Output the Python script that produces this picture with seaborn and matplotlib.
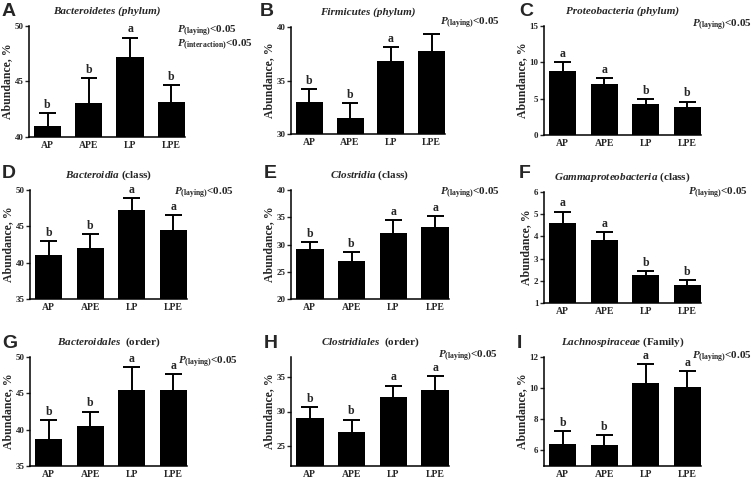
import numpy as np
import pandas as pd
import matplotlib
matplotlib.use("Agg")
import matplotlib.pyplot as plt
import seaborn as sns

sns.set_style("ticks")
plt.rcParams['font.family'] = ['Liberation Serif', 'DejaVu Serif']
plt.rcParams['font.weight'] = 'bold'
plt.rcParams['mathtext.fontset'] = 'custom'
plt.rcParams['mathtext.rm'] = 'Liberation Serif:bold'
plt.rcParams['mathtext.bf'] = 'Liberation Serif:bold'
plt.rcParams['mathtext.it'] = 'Liberation Serif:italic:bold'

groups = ["AP", "APE", "LP", "LPE"]

panel_ids = ["A", "B", "C", "D", "E", "F", "G", "H", "I"]
titles = [
    "Bacteroidetes (phylum)",
    "Firmicutes (phylum)",
    "Proteobacteria (phylum)",
    r"$\mathit{Bacteroidia}$ (class)",
    r"$\mathit{Clostridia}$ (class)",
    r"$\mathit{Gammaproteobacteria}$ (class)",
    r"$\mathit{Bacteroidales}$  (order)",
    r"$\mathit{Clostridiales}$  (order)",
    r"$\mathit{Lachnospiraceae}$ (Family)",
]
italic_title = [True, True, True, False, False, False, False, False, False]

means = [
    [41.0, 43.05, 47.2, 43.15],
    [33.0, 31.5, 36.8, 37.8],
    [8.8, 7.0, 4.3, 3.8],
    [41.0, 42.0, 47.2, 44.5],
    [29.1, 27.0, 32.1, 33.2],
    [4.6, 3.85, 2.25, 1.8],
    [38.7, 40.5, 45.5, 45.4],
    [29.0, 27.0, 32.1, 33.2],
    [6.4, 6.35, 10.35, 10.05],
]
errors = [
    [1.15, 2.25, 1.75, 1.55],
    [1.2, 1.4, 1.3, 1.5],
    [1.2, 0.8, 0.6, 0.8],
    [2.0, 1.9, 1.7, 2.1],
    [1.3, 1.6, 2.4, 2.0],
    [0.52, 0.33, 0.2, 0.22],
    [2.6, 2.0, 3.1, 2.3],
    [1.7, 1.8, 1.7, 2.0],
    [0.85, 0.65, 1.2, 1.05],
]
letters = [
    ["b", "b", "a", "b"],
    ["b", "b", "a", ""],
    ["a", "a", "b", "b"],
    ["b", "b", "a", "a"],
    ["b", "b", "a", "a"],
    ["a", "a", "b", "b"],
    ["b", "b", "a", "a"],
    ["b", "b", "a", "a"],
    ["b", "b", "a", "a"],
]
ylims = [(40, 50), (30, 40), (0, 15), (35, 50), (20, 40), (1, 6), (35, 50), (22, 38), (5, 12)]
yticks = [
    [40, 45, 50], [30, 35, 40], [0, 5, 10, 15], [35, 40, 45, 50], [20, 25, 30, 35, 40],
    [1, 2, 3, 4, 5, 6], [35, 40, 45, 50], [25, 30, 35], [6, 8, 10, 12],
]
p_texts = [
    [r"$\mathit{P}_{\mathrm{(laying)}}$<0.05", r"$\mathit{P}_{\mathrm{(interaction)}}$<0.05"],
] + [[r"$\mathit{P}_{\mathrm{(laying)}}$<0.05"]] * 8

# layout in pixels: left, top, right, bottom
W, H = 756, 484
boxes = [
    (29, 26, 185, 137), (291, 27, 445, 134), (544, 26, 701, 135),
    (30, 190, 187, 299), (291, 190, 449, 299), (544, 192, 701, 303),
    (30, 357, 187, 466), (291, 357, 449, 466), (544, 357, 701, 466),
]
p_pos = [(0.95, 0.96), (0.97, 1.04), (0.94, 1.01), (0.92, 0.97), (0.94, 0.97),
         (0.92, 0.99), (0.94, 0.96), (0.93, 1.01), (0.94, 1.0)]
letter_pos = [(2, 3), (260, 3), (519, 3), (2, 165), (264, 165), (519, 165),
              (2, 335), (264, 335), (517, 335)]

fig = plt.figure(figsize=(W / 100, H / 100), dpi=100)

for i in range(9):
    l, t, r, b = boxes[i]
    ax = fig.add_axes([l / W, 1 - b / H, (r - l) / W, (b - t) / H])
    df = pd.DataFrame({"group": groups, "value": means[i], "err": errors[i]})
    sns.barplot(data=df, x="group", y="value", color="black", width=0.66,
                errorbar=None, ax=ax, saturation=1, edgecolor="black", linewidth=0)
    # upper error only, cap on top
    xs = np.arange(4)
    tops = df["value"] + df["err"]
    ax.vlines(xs, df["value"], tops, color="black", linewidth=1.4)
    ax.hlines(tops, xs - 0.2, xs + 0.2, color="black", linewidth=1.4)
    lo, hi = ylims[i]
    ax.set_ylim(lo, hi)
    ax.set_yticks(yticks[i])
    ax.set_xlim(-0.45, 3.33)
    span = hi - lo
    for k in range(4):
        if letters[i][k]:
            ax.text(k, tops[k] + span * 0.02, letters[i][k],
                    ha="center", va="bottom", fontsize=8.5, fontweight="bold")
    sns.despine(ax=ax)
    for s in ["left", "bottom"]:
        ax.spines[s].set_linewidth(1.1)
        ax.spines[s].set_color("black")
    ax.tick_params(axis="y", length=3, width=1, labelsize=6.5, pad=1)
    ax.tick_params(axis="x", length=0, labelsize=7, pad=3)
    ax.set_xlabel("")
    ax.set_ylabel("Abundance, %", fontsize=8.5, fontweight="bold", labelpad=1)
    ax.set_title(titles[i], fontsize=8, fontweight="bold",
                 fontstyle="italic" if italic_title[i] else "normal", pad=9)
    px, py = p_pos[i]
    for j, pt in enumerate(p_texts[i]):
        ax.text(px, py - j * 0.13, pt, transform=ax.transAxes, ha="left", va="center",
                fontsize=8, fontweight="bold")
    lx, ly = letter_pos[i]
    fig.text(lx / W, 1 - ly / H, panel_ids[i], ha="left", va="top",
             fontsize=14, fontweight="bold", family=["Liberation Sans", "DejaVu Sans"])

fig.savefig("out.png", dpi=100)
